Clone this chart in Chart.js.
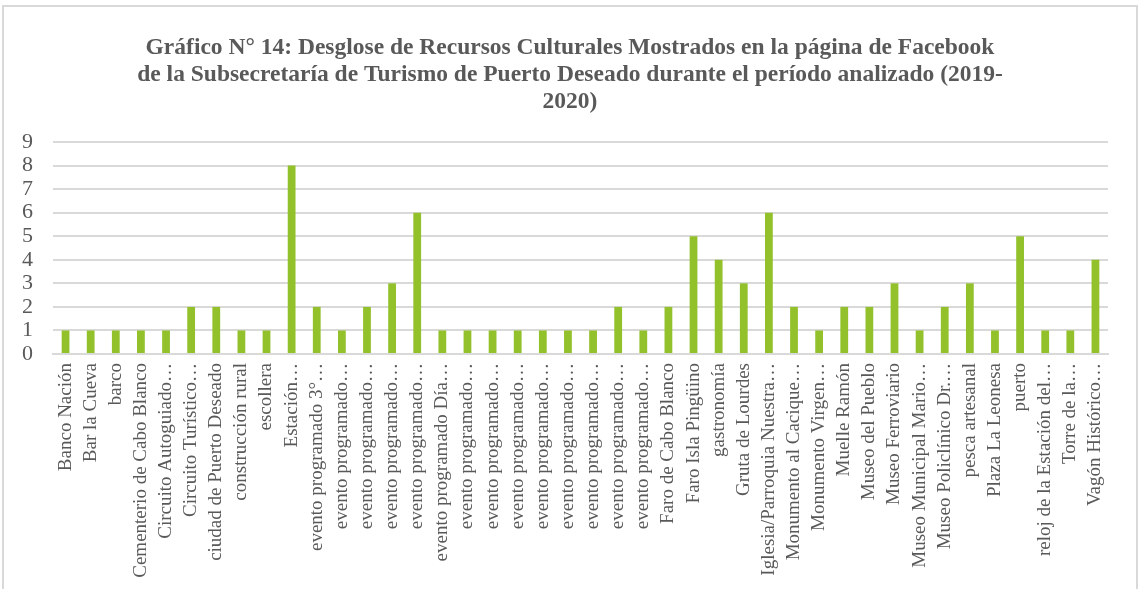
<!DOCTYPE html>
<html>
<head>
<meta charset="utf-8">
<script src="https://cdn.jsdelivr.net/npm/chart.js@4.4.0/dist/chart.umd.min.js"></script>
<style>
  body { margin: 0; background: #fff; }
  #marco { position: absolute; left: 2px; top: 5px; width: 1132px; height: 600px; border: 2px solid #d9d9d9; }
  #grafico { position: absolute; left: 0; top: 0; }
</style>
</head>
<body>
<div id="marco"></div>
<canvas id="grafico" width="1140" height="589"></canvas>
<script>
const titulo = [
  'Gráfico N° 14: Desglose de Recursos Culturales Mostrados en la página de Facebook',
  'de la Subsecretaría de Turismo de Puerto Deseado durante el período analizado (2019-',
  '2020)'
];

const recursos = [
  'Banco Nación', 'Bar la Cueva', 'barco', 'Cementerio de Cabo Blanco',
  'Circuito Autoguiado…', 'Circuito Turístico…', 'ciudad de Puerto Deseado',
  'construcción rural', 'escollera', 'Estación…', 'evento programado 3°…',
  'evento programado…', 'evento programado…', 'evento programado…',
  'evento programado…', 'evento programado Día…', 'evento programado…',
  'evento programado…', 'evento programado…', 'evento programado…',
  'evento programado…', 'evento programado…', 'evento programado…',
  'evento programado…', 'Faro de Cabo Blanco', 'Faro Isla Pingüino',
  'gastronomía', 'Gruta de Lourdes', 'Iglesia/Parroquia Nuestra…',
  'Monumento al Cacique…', 'Monumento Virgen…', 'Muelle Ramón',
  'Museo del Pueblo', 'Museo Ferroviario', 'Museo Municipal Mario…',
  'Museo Policlínico Dr.…', 'pesca artesanal', 'Plaza La Leonesa', 'puerto',
  'reloj de la Estación del…', 'Torre de la…', 'Vagón Histórico…'
];

const cantidades = [
  1, 1, 1, 1, 1, 2, 2, 1, 1, 8,
  2, 1, 2, 3, 6, 1, 1, 1, 1, 1,
  1, 1, 2, 1, 2, 5, 4, 3, 6, 2,
  1, 2, 2, 3, 1, 2, 3, 1, 5, 1,
  1, 4
];

const gris = '#595959';
const serif = "'Liberation Serif', 'Times New Roman', serif";

new Chart(document.getElementById('grafico'), {
  type: 'bar',
  data: {
    labels: recursos,
    datasets: [{
      data: cantidades,
      backgroundColor: '#92c12b',
      barPercentage: 0.62,
      categoryPercentage: 0.5
    }]
  },
  options: {
    responsive: false,
    animation: false,
    layout: { padding: 0 },
    plugins: {
      legend: { display: false },
      tooltip: { enabled: false },
      title: {
        display: true,
        text: titulo,
        color: gris,
        font: { family: serif, size: 23.5, weight: 'bold', lineHeight: 1.15 },
        padding: { top: 34, bottom: 27 }
      }
    },
    scales: {
      x: {
        grid: { display: false, drawTicks: false },
        border: { color: '#d9d9d9', width: 2 },
        ticks: {
          color: gris,
          font: { family: serif, size: 19 },
          maxRotation: 90,
          minRotation: 90,
          autoSkip: false,
          padding: 9
        },
        afterFit: s => { s.height = 235; }
      },
      y: {
        min: 0,
        max: 9,
        grid: { color: '#d9d9d9', lineWidth: 2, drawTicks: false },
        border: { display: false },
        ticks: {
          stepSize: 1,
          autoSkip: false,
          color: gris,
          font: { family: serif, size: 22 },
          padding: 20
        },
        afterFit: s => { s.width = 53; }
      },
      // eje vacío a la derecha, solo para dejar el margen
      margen: {
        position: 'right',
        min: 0,
        max: 9,
        grid: { display: false, drawTicks: false },
        border: { display: false },
        ticks: { display: false },
        afterFit: s => { s.width = 32; }
      }
    }
  }
});
</script>
</body>
</html>
